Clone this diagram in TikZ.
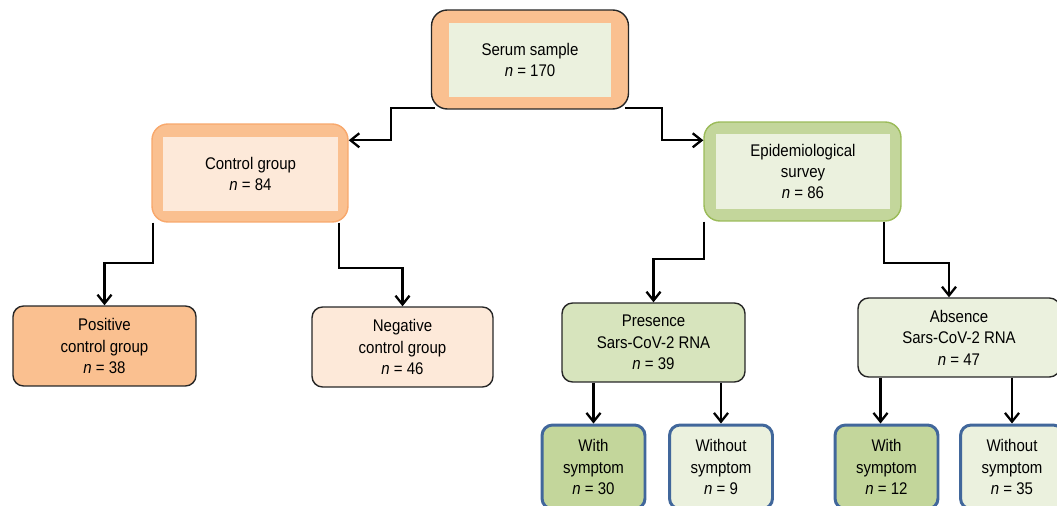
\documentclass[tikz,border=0pt]{standalone}
\usepackage{fontspec}
\setmainfont{Liberation Sans}[FakeStretch=0.89]
\usetikzlibrary{arrows.meta}

\definecolor{peach}{HTML}{FAC090}
\definecolor{paleorange}{HTML}{FDE9D9}
\definecolor{orangeline}{HTML}{F8A86C}
\definecolor{olive}{HTML}{C3D69B}
\definecolor{sage}{HTML}{D7E4BD}
\definecolor{palegreen}{HTML}{EBF1DE}
\definecolor{greenline}{HTML}{9BBB59}
\definecolor{symblue}{HTML}{41679B}

\begin{document}
\begin{tikzpicture}[x=0.02cm,y=-0.02cm,->,>={Straight Barb[length=5pt,width=8pt]},
    line width=1.3pt,
    every node/.style={font=\fontsize{9.6}{12.2}\selectfont,align=center,text=black},
    frame node/.style={rectangle,rounded corners=9pt,minimum width=3.94cm,
      minimum height=1.98cm,line width=0.8pt},
    inner node/.style={rectangle,minimum height=1.48cm},
    group node/.style={rectangle,rounded corners=6pt,draw=black!85,line width=0.8pt,
      minimum width=3.66cm,minimum height=1.6cm},
    symptom node/.style={rectangle,rounded corners=6pt,draw=symblue,line width=1.7pt,
      minimum width=2.06cm,minimum height=1.68cm}]

\useasboundingbox (0,0) rectangle (1057,506);

% top level
\node[frame node,draw=black!85,fill=peach] (1) at (530,59.5) {};
\node[inner node,fill=palegreen,minimum width=3.24cm] (1i) at (530,60)
  {Serum sample\\\textit{n} = 170};

% second level
\node[frame node,draw=orangeline,fill=peach,minimum width=3.92cm,minimum height=1.96cm]
  (2) at (250,173) {};
\node[inner node,fill=paleorange,minimum width=3.5cm] (2i) at (250.5,174)
  {Control group\\\textit{n} = 84};
\node[frame node,draw=greenline,fill=olive] (3) at (802.5,171.5) {};
\node[inner node,fill=palegreen,minimum width=3.48cm,minimum height=1.5cm] (3i)
  at (803,171.5) {Epidemiological\\survey\\\textit{n} = 86};

% third level
\node[group node,fill=peach] (4) at (104.5,346) {Positive\\control group\\\textit{n} = 38};
\node[group node,fill=paleorange,minimum width=3.62cm] (5) at (402.5,347)
  {Negative\\control group\\\textit{n} = 46};
\node[group node,fill=sage,minimum height=1.58cm] (6) at (653.5,342.5)
  {Presence\\Sars-CoV-2 RNA\\\textit{n} = 39};
\node[group node,fill=palegreen,minimum width=4.04cm,minimum height=1.58cm] (7)
  at (959,337.5) {Absence\\Sars-CoV-2 RNA\\\textit{n} = 47};

% symptoms
\node[symptom node,fill=olive] (8) at (593.5,467) {With\\symptom\\\textit{n} = 30};
\node[symptom node,fill=palegreen] (9) at (721,467) {Without\\symptom\\\textit{n} = 9};
\node[symptom node,fill=olive] (10) at (886.5,467) {With\\symptom\\\textit{n} = 12};
\node[symptom node,fill=palegreen] (11) at (1012,467) {Without\\symptom\\\textit{n} = 35};

% connectors
\draw ([xshift=0.08cm,yshift=0.03cm]1.south west) -- ++(-44,0)
  |- ([yshift=-0.34cm]2.north east);
\draw ([xshift=-0.08cm,yshift=0.03cm]1.south east) -- ++(37,0)
  |- ([yshift=-0.38cm]3.north west);
\draw ([xshift=0.04cm]2.south west) -- ++(0,40) -| (4.north);
\draw ([xshift=-0.2cm]2.south east) -- ++(0,45) -| (5.north);
\draw ([xshift=0.02cm]3.south west) -- ++(0,37) -| (6.north);
\draw ([xshift=-0.36cm]3.south east) -- ++(0,41) -| ([xshift=-0.2cm]7.north);
\draw (6.south -| 8.north) -- (8.north);
\draw (6.south -| 9.north) -- (9.north);
\draw ([xshift=-0.12cm]10.north |- 7.south) -- ([xshift=-0.12cm]10.north);
\draw (7.south -| 11.north) -- (11.north);

\end{tikzpicture}
\end{document}
